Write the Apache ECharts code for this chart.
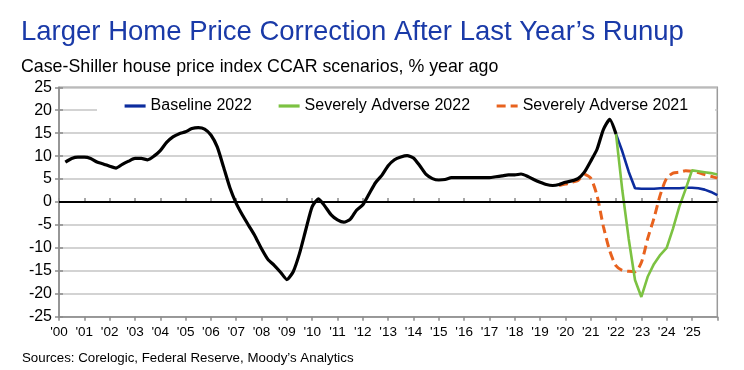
<!DOCTYPE html>
<html>
<head>
<meta charset="utf-8">
<script src="https://cdn.jsdelivr.net/npm/echarts@6/dist/echarts.min.js"></script>
<style>
html,body{margin:0;padding:0;background:#fff;}
#chart{width:744px;height:370px;}
</style>
</head>
<body>
<div id="chart"></div>
<script>
// ---- Data (quarterly, % year ago) ----
const titleText = 'Larger Home Price Correction After Last Year\u2019s Runup';
const subtitleText = 'Case-Shiller house price index CCAR scenarios, % year ago';
const sourceText = 'Sources: Corelogic, Federal Reserve, Moody\u2019s Analytics';
const yearTicks = ['00','01','02','03','04','05','06','07','08','09','10','11','12','13','14','15','16','17','18','19','20','21','22','23','24','25'];
const seriesNames = ['History', 'Baseline 2022', 'Severely Adverse 2022', 'Severely Adverse 2021'];

// History: 2000Q1 .. 2021Q4
const historyStart = [2000, 1];
const history = [
  8.7, 9.5, 9.8, 9.8,
  9.5, 8.7, 8.3, 7.8,
  7.4, 8.2, 8.9, 9.5,
  9.5, 9.2, 10.0, 11.2,
  13.0, 14.2, 14.9, 15.3,
  16.0, 16.2, 15.9, 14.6,
  12.0, 7.6, 3.1, -0.3,
  -2.9, -5.2, -7.5, -10.2,
  -12.5, -13.8, -15.3, -16.9,
  -15.2, -11.2, -6.0, -1.0,
  0.7, -0.9, -2.8, -3.9,
  -4.4, -3.8, -1.8, -0.6,
  1.8, 4.2, 5.8, 7.9,
  9.2, 9.8, 10.1, 9.6,
  7.9, 6.0, 5.1, 4.8,
  4.9, 5.3, 5.3, 5.3,
  5.3, 5.3, 5.3, 5.3,
  5.5, 5.7, 5.9, 5.9,
  6.1, 5.6, 4.9, 4.3,
  3.8, 3.6, 3.8, 4.3,
  4.6, 5.1, 6.5, 8.9,
  11.5, 15.8, 18.0, 14.8
];

// Baseline 2022: 2021Q4 .. 2025Q4
const baselineStart = [2021, 4];
const baseline2022 = [
  14.8,
  11.0, 6.6, 3.0, 2.9,
  2.9, 2.9, 3.0, 3.0,
  3.0, 3.0, 3.1, 3.1,
  3.0, 2.7, 2.2, 1.5
];

// Severely Adverse 2022: 2021Q4 .. 2025Q4
const sa2022Start = [2021, 4];
const severelyAdverse2022 = [
  14.8,
  2.5, -8.0, -17.0, -20.7,
  -16.3, -13.5, -11.5, -10.0,
  -5.8, -1.0, 2.8, 6.9,
  6.7, 6.5, 6.3, 6.0
];

// Severely Adverse 2021: 2019Q3 .. 2025Q4
const sa2021Start = [2019, 3];
const severelyAdverse2021 = [
  3.6, 3.9,
  4.3, 4.7, 6.0, 5.2,
  1.4, -5.3, -10.6, -13.9,
  -14.9, -15.1, -15.2, -13.2,
  -8.0, -3.5, 1.6, 5.2,
  6.3, 6.5, 6.8, 6.7,
  6.4, 6.0, 5.6, 5.2
];

// quarter values plotted at the end of each quarter on a year scale
function toPairs(start, values) {
  const out = [];
  for (let i = 0; i < values.length; i++) {
    const qIndex = (start[1] - 1) + i;
    const year = start[0] + Math.floor(qIndex / 4);
    const q = (qIndex % 4) + 1;
    out.push([year + q / 4, values[i]]);
  }
  return out;
}

const FONT = 'Liberation Sans, Arial, Helvetica, sans-serif';
const BLACK = '#000000';
const BLUE = '#0c2c9e';
const GREEN = '#7cc242';
const ORANGE = '#e8621e';
const TITLE_BLUE = '#1a3aa8';

const chart = echarts.init(document.getElementById('chart'), null, {renderer: 'canvas'});

const xRange = {min: 2000, max: 2026, interval: 1};
const yRange = {min: -25, max: 25, interval: 5};

chart.setOption({
  animation: false,
  backgroundColor: '#ffffff',
  title: [
    {text: titleText, left: 16, top: 13, textStyle: {fontFamily: FONT, fontSize: 27.5, fontWeight: 'normal', color: TITLE_BLUE}},
    {text: subtitleText, left: 16, top: 53, textStyle: {fontFamily: FONT, fontSize: 17.8, fontWeight: 'normal', color: '#000'}},
    {text: sourceText, left: 17, top: 347, textStyle: {fontFamily: FONT, fontSize: 13.3, fontWeight: 'normal', color: '#000'}}
  ],
  legend: {
    data: [seriesNames[1], seriesNames[2], seriesNames[3]],
    left: 97, top: 95,
    padding: [3, 27, 3, 26],
    backgroundColor: '#ffffff',
    itemWidth: 21, itemHeight: 14, itemGap: 25,
    itemStyle: {opacity: 0, borderWidth: 0},
    lineStyle: {width: 3.2},
    textStyle: {fontFamily: FONT, fontSize: 16, color: '#000'}
  },
  grid: {
    left: 59, right: 26.7, top: 87.3, bottom: 53.3,
    show: true, borderColor: '#9a9a9a', borderWidth: 1.5, backgroundColor: 'transparent'
  },
  xAxis: [
    {
      type: 'value', min: xRange.min, max: xRange.max, interval: xRange.interval,
      axisLine: {show: true, onZero: false, lineStyle: {color: '#8c8c8c', width: 1.5}},
      axisTick: {show: true, inside: false, length: 4, lineStyle: {color: '#8c8c8c', width: 1.5}},
      splitLine: {show: false},
      axisLabel: {
        fontFamily: FONT, fontSize: 13.5, color: '#000', margin: 9,
        formatter: function (v) { const i = Math.round(v) - 2000; return (i >= 0 && i < yearTicks.length) ? '\'' + yearTicks[i] : ''; }
      }
    },
    {
      type: 'value', min: xRange.min, max: xRange.max, interval: xRange.interval, position: 'bottom',
      axisLine: {show: false}, splitLine: {show: false}, axisLabel: {show: false},
      axisTick: {show: true, inside: true, length: 4, lineStyle: {color: '#8c8c8c', width: 1.5}}
    }
  ],
  yAxis: [
    {
      type: 'value', min: yRange.min, max: yRange.max, interval: yRange.interval,
      axisLine: {show: true, lineStyle: {color: '#8c8c8c', width: 1.5}},
      axisTick: {show: true, length: 4, lineStyle: {color: '#8c8c8c', width: 1.5}},
      splitLine: {show: true, lineStyle: {color: '#c4c4c4', width: 1.5}},
      axisLabel: {fontFamily: FONT, fontSize: 16, color: '#000', margin: 7}
    },
    {
      type: 'value', min: yRange.min, max: yRange.max, interval: yRange.interval, position: 'left',
      axisLine: {show: false}, splitLine: {show: false}, axisLabel: {show: false},
      axisTick: {show: true, inside: true, length: 4, lineStyle: {color: '#8c8c8c', width: 1.5}}
    }
  ],
  series: [
    {
      name: seriesNames[3], type: 'line', data: toPairs(sa2021Start, severelyAdverse2021),
      showSymbol: false, symbol: 'none', smooth: 0.25, z: 2,
      lineStyle: {color: ORANGE, width: 3, type: [9, 5]}, itemStyle: {color: ORANGE}
    },
    {
      name: seriesNames[1], type: 'line', data: toPairs(baselineStart, baseline2022),
      showSymbol: false, symbol: 'none', smooth: false, z: 3,
      lineStyle: {color: BLUE, width: 2.6}, itemStyle: {color: BLUE}
    },
    {
      name: seriesNames[2], type: 'line', data: toPairs(sa2022Start, severelyAdverse2022),
      showSymbol: false, symbol: 'none', smooth: false, z: 4,
      lineStyle: {color: GREEN, width: 2.6}, itemStyle: {color: GREEN}
    },
    {
      name: seriesNames[0], type: 'line', data: toPairs(historyStart, history),
      showSymbol: false, symbol: 'none', smooth: 0.2, z: 5,
      lineStyle: {color: BLACK, width: 3.2}, itemStyle: {color: BLACK},
      markLine: {
        silent: true, symbol: 'none', label: {show: false}, animation: false,
        lineStyle: {color: '#000', width: 2, type: 'solid'},
        data: [{yAxis: 0}]
      }
    }
  ]
});
</script>
</body>
</html>
